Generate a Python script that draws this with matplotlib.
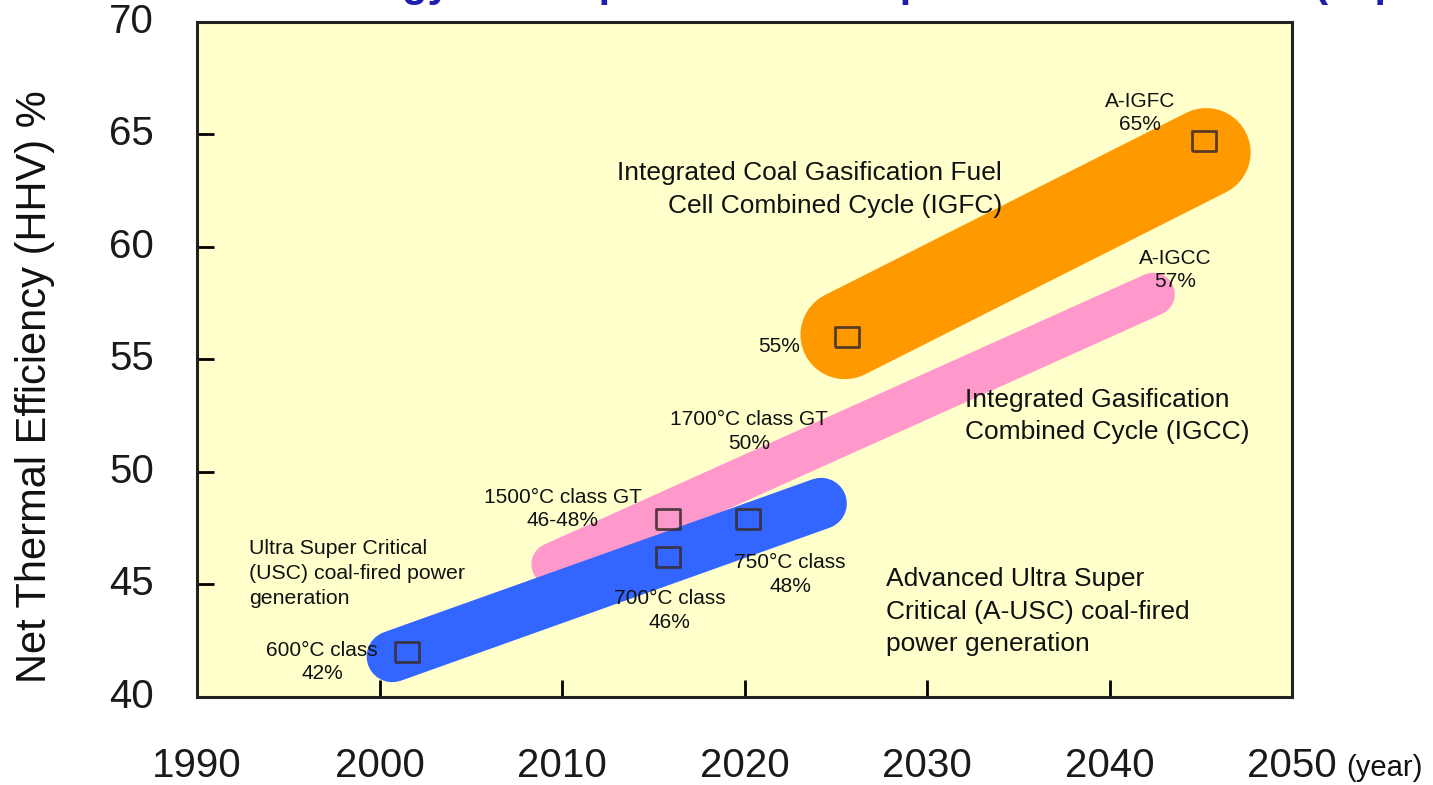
import matplotlib
matplotlib.use('Agg')
import matplotlib.pyplot as plt

plt.rcParams['font.family'] = ['Liberation Sans', 'DejaVu Sans']

# Technology bands: (start year, start eff), (end year, end eff)
band_names = ['IGFC', 'IGCC', 'A-USC']
band_x = [[2025.5, 2045.3], [2009.5, 2042.4], [2000.7, 2024.2]]
band_y = [[56.1, 64.2], [45.9, 57.9], [41.8, 48.6]]
band_colors = ['#ff9900', '#ff99cc', '#3366ff']
band_widths = [64, 31, 37]  # line width in points
band_order = [1, 0, 2]

# Milestone markers
mark_years = [2001.5, 2015.8, 2015.8, 2020.2, 2025.6, 2045.2]
mark_eff = [42.0, 46.2, 47.9, 47.9, 56.0, 64.7]

# Small labels for milestones
lab_text = ['600°C class\n42%', '700°C class\n46%', '1500°C class GT\n46-48%',
            '750°C class\n48%', '1700°C class GT\n50%', '55%',
            'A-IGFC\n65%', 'A-IGCC\n57%']
lab_x = [1996.85, 2015.9, 2010.05, 2022.5, 2020.25, 2023.05, 2041.67, 2043.6]
lab_y = [41.56, 43.84, 48.36, 45.44, 51.8, 55.56, 65.96, 58.98]
lab_ha = ['center', 'center', 'center', 'center', 'center', 'right', 'center', 'center']

# Large technology descriptions
desc_text = ['Integrated Coal Gasification Fuel\nCell Combined Cycle (IGFC)',
             'Integrated Gasification\nCombined Cycle (IGCC)',
             'Advanced Ultra Super\nCritical (A-USC) coal-fired\npower generation']
desc_x = [2034.1, 2032.1, 2027.75]
desc_y = [62.56, 52.49, 43.78]
desc_ha = ['right', 'left', 'left']

x_ticks = [1990, 2000, 2010, 2020, 2030, 2040, 2050]
y_ticks = [40, 45, 50, 55, 60, 65, 70]

fig = plt.figure(figsize=(14.33, 7.85), dpi=100)
ax = fig.add_axes([0.1375, 0.1121, 0.7641, 0.8599])
ax.set_facecolor('#ffffcc')

for i in band_order:
    ax.plot(band_x[i], band_y[i], color=band_colors[i], lw=band_widths[i],
            solid_capstyle='round', zorder=2)

ax.plot(mark_years, mark_eff, linestyle='none',
        marker=[(-1.2, -1), (1.2, -1), (1.2, 1), (-1.2, 1), (-1.2, -1)],
        markersize=17, mfc='none', mec='#3a2b2b', mew=2, alpha=0.85, zorder=3)

for t, x, y, ha in zip(lab_text, lab_x, lab_y, lab_ha):
    ax.text(x, y, t, ha=ha, va='center', fontsize=15, linespacing=1.3,
            color='#111111', zorder=4)

ax.text(1992.85, 45.51, 'Ultra Super Critical\n(USC) coal-fired power\ngeneration',
        ha='left', va='center', fontsize=15.3, linespacing=1.4, color='#111111')

for t, x, y, ha in zip(desc_text, desc_x, desc_y, desc_ha):
    ax.text(x, y, t, ha=ha, va='center', fontsize=19, linespacing=1.45,
            color='#111111', zorder=4)

ax.set_xlim(1990, 2050)
ax.set_ylim(40, 70)
ax.set_xticks(x_ticks[1:-1])
ax.set_yticks(y_ticks[1:-1])
ax.tick_params(direction='in', length=12, width=2, labelbottom=False, labelleft=False)
for s in ax.spines.values():
    s.set_linewidth(2.2)
    s.set_color('#222222')

# tick labels placed outside, at the axis positions
for yr in x_ticks:
    ax.annotate(str(yr), xy=(yr, 40), xycoords='data', xytext=(0, -50),
                textcoords='offset points', ha='center', va='center',
                fontsize=29, color='#1a1a1a', annotation_clip=False)
for v in y_ticks:
    ax.annotate(str(v), xy=(1990, v), xycoords='data', xytext=(-47, 0),
                textcoords='offset points', ha='center', va='center',
                fontsize=29, color='#1a1a1a', annotation_clip=False)

fig.text(1346 / 1433, 1 - 768 / 785, '(year)', ha='left', va='center',
         fontsize=21, color='#111111')
fig.text(35 / 1433, 1 - 387 / 785, 'Net Thermal Efficiency (HHV) %',
         rotation=90, ha='center', va='center', fontsize=30, color='#111111')
fig.text(-0.005, 1 + 4 / 785, 'Clean Coal Technology Development Roadmap for Thermal Power (Japan example)',
         ha='left', va='baseline', fontsize=30, fontweight='bold', color='#1f1fae')

fig.savefig('out.png', dpi=100)
